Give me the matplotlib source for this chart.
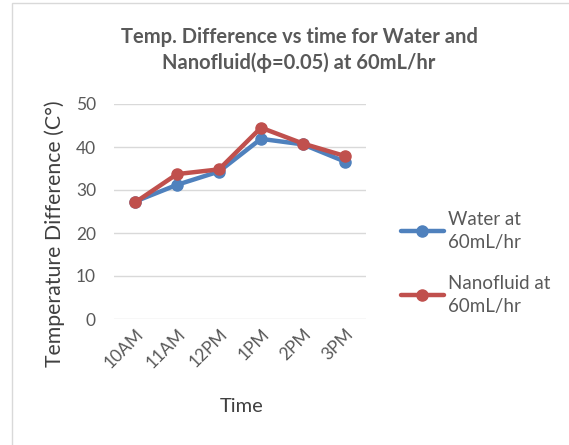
import matplotlib
matplotlib.use('Agg')
import matplotlib.pyplot as plt
from matplotlib.patches import Rectangle

plt.rcParams['font.family'] = ['Lato', 'DejaVu Sans']

# data
times = ['10AM', '11AM', '12PM', '1PM', '2PM', '3PM']
water = [27.3, 31.2, 34.3, 41.9, 40.6, 36.6]
nanofluid = [27.1, 33.7, 34.8, 44.5, 40.8, 37.9]
y_ticks = [0, 10, 20, 30, 40, 50]

blue = '#4F81BD'
red = '#C0504D'
grey_txt = '#595959'

fig = plt.figure(figsize=(5.69, 4.45), dpi=100)
# chart frame
fig.patches.append(Rectangle((12 / 569, -0.01), 1.0, 1 - 3 / 445 + 0.01, transform=fig.transFigure,
                             fill=False, edgecolor='#D9D9D9', linewidth=1.0))

ax = fig.add_axes([114 / 569, 1 - 319 / 445, 252 / 569, 215 / 445])
x = list(range(len(times)))
ax.plot(x, water, color=blue, lw=3.2, marker='o', ms=8, label='Water at\n60mL/hr', solid_capstyle='round')
ax.plot(x, nanofluid, color=red, lw=3.2, marker='o', ms=8, label='Nanofluid at\n60mL/hr', solid_capstyle='round')

ax.set_xlim(-0.5, len(times) - 0.5)
ax.set_ylim(0, 50)
ax.set_yticks(y_ticks)
ax.set_xticks(x)
ax.set_xticklabels(times, rotation=45, ha='right', va='top', rotation_mode='anchor')
ax.tick_params(axis='both', length=0, labelsize=12.5, labelcolor=grey_txt)
ax.tick_params(axis='y', pad=13)
ax.tick_params(axis='x', pad=5)
ax.grid(axis='y', color='#D9D9D9', lw=1)
ax.set_axisbelow(True)
for s in ax.spines.values():
    s.set_visible(False)

fig.text(55 / 569, 1 - 234 / 445, 'Temperature Difference (C°)', rotation=90, ha='center', va='center',
         fontsize=15.3, color='#404040')
fig.text(242 / 569, 1 - 406 / 445, 'Time', ha='center', va='center', fontsize=14.5, color='#404040')

fig.text(299 / 569, 1 - 50 / 445, 'Temp. Difference vs time for Water and\nNanofluid(ϕ=0.05) at 60mL/hr',
         ha='center', va='center', fontsize=14.5, fontweight='bold', color=grey_txt, linespacing=1.3)

ax.legend(loc='center left', bbox_to_anchor=(384 / 569, 1 - 263 / 445), bbox_transform=fig.transFigure,
          frameon=False, fontsize=13.5, labelcolor=grey_txt, handlelength=2.3, handletextpad=0.2,
          labelspacing=1.3)
for t in ax.get_legend().get_texts():
    t.set_linespacing(1.4)

fig.savefig('out.png', dpi=100)
